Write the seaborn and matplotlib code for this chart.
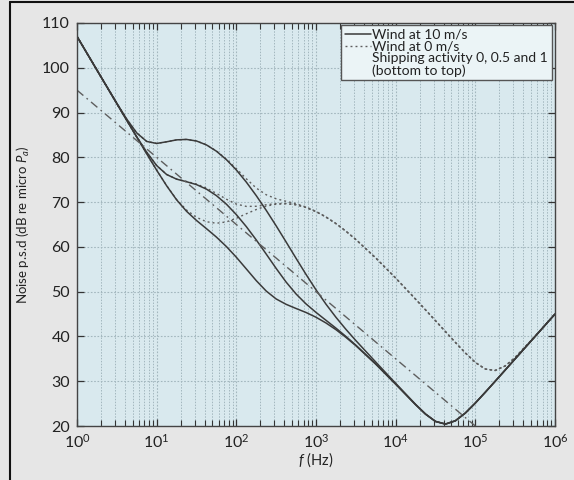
import matplotlib
matplotlib.use("Agg")
import matplotlib.pyplot as plt
from matplotlib.lines import Line2D
from matplotlib.ticker import FixedLocator, LogLocator, NullFormatter
import seaborn as sns
import pandas as pd

# ---------------- data ----------------
freq_hz = [1, 1.778, 3.162, 4.217, 5.623, 7.499, 10, 13.34, 17.78, 23.71, 31.62,
           42.17, 56.23, 74.99, 100, 133.4, 177.8, 237.1, 316.2, 421.7, 562.3,
           749.9, 1000, 1334, 1778, 2371, 3162, 5623, 10000, 17783, 23714, 31623,
           42170, 56234, 74989, 100000, 133352, 177828, 237137, 316228, 562341,
           1000000]

# solid curves (legend: "Wind at 10 m/s"), shipping 0, 0.5, 1
solid_s0 = [107.0, 99.5, 92.0, 88.25, 84.51, 80.79, 77.13, 73.65, 70.52, 67.95, 65.9,
            64.07, 62.19, 60.08, 57.69, 55.08, 52.47, 50.14, 48.37, 47.17, 46.24,
            45.35, 44.29, 43.01, 41.52, 39.81, 37.94, 33.81, 29.34, 24.76, 22.65, 21.02,
            20.43, 21.17, 22.9, 25.13, 27.54, 30.01, 32.5, 35.0, 40.0, 45.0]
solid_s05 = [107.0, 99.5, 92.0, 88.28, 84.6, 81.13, 78.16, 76.16, 75.13, 74.55, 73.91,
             72.90, 71.45, 69.54, 67.21, 64.53, 61.56, 58.40, 55.19, 52.14, 49.48,
             47.26, 45.37, 43.61, 41.86, 40.01, 38.06, 33.86, 29.36, 24.77, 22.65, 21.02,
             20.43, 21.17, 22.9, 25.13, 27.54, 30.01, 32.5, 35.0, 40.0, 45.0]
solid_s1 = [107.0, 99.5, 92.07, 88.51, 85.45, 83.55, 83.1, 83.47, 83.9, 84.0, 83.65,
            82.77, 81.37, 79.49, 77.18, 74.47, 71.45, 68.17, 64.70, 61.09, 57.44,
            53.85, 50.41, 47.21, 44.29, 41.60, 39.08, 34.28, 29.53, 24.84, 22.67, 21.02,
            20.43, 21.17, 22.9, 25.13, 27.54, 30.01, 32.5, 35.0, 40.0, 45.0]

# dotted curves (legend: "Wind at 0 m/s"), shipping 0, 0.5, 1
dotted_s0 = [107.0, 99.5, 92.0, 88.25, 84.51, 80.8, 77.14, 73.68, 70.6, 68.23, 66.6,
             65.62, 65.28, 65.58, 66.39, 67.40, 68.34, 69.11, 69.53, 69.64, 69.39,
             68.79, 67.87, 66.66, 65.2, 63.51, 61.65, 57.53, 53.04, 48.33, 45.93, 43.51,
             41.08, 38.66, 36.31, 34.2, 32.72, 32.40, 33.41, 35.31, 40.03, 45.0]
dotted_s05 = [107.0, 99.5, 92.0, 88.28, 84.6, 81.13, 78.18, 76.18, 75.16, 74.61, 74.03,
              73.14, 71.95, 70.65, 69.56, 69.04, 69.07, 69.41, 69.66, 69.69, 69.42,
              68.80, 67.89, 66.67, 65.2, 63.51, 61.65, 57.53, 53.04, 48.33, 45.93, 43.51,
              41.08, 38.66, 36.31, 34.2, 32.72, 32.40, 33.41, 35.31, 40.03, 45.0]
dotted_s1 = [107.0, 99.5, 92.07, 88.51, 85.45, 83.55, 83.1, 83.47, 83.9, 84.0, 83.66,
             82.79, 81.42, 79.62, 77.48, 75.21, 73.14, 71.64, 70.74, 70.18, 69.64,
             68.91, 67.93, 66.69, 65.22, 63.52, 61.66, 57.53, 53.04, 48.33, 45.93, 43.51,
             41.08, 38.66, 36.31, 34.2, 32.72, 32.40, 33.41, 35.31, 40.03, 45.0]

# dash-dot approximation line
approx_f = [1, 100000]
approx_db = [95, 20]

legend_labels = ["Wind at 10 m/s", "Wind at 0 m/s",
                 "Shipping activity 0, 0.5 and 1\n(bottom to top)"]
x_ticks = [1, 10, 100, 1000, 10000, 100000, 1000000]
y_ticks = [20, 30, 40, 50, 60, 70, 80, 90, 100, 110]

# ---------------- style ----------------
sns.set_style("ticks")
plt.rcParams["font.family"] = ["Lato", "DejaVu Sans"]
plt.rcParams["mathtext.fontset"] = "custom"
plt.rcParams["mathtext.rm"] = "Lato"
plt.rcParams["mathtext.it"] = "Lato:italic"
plt.rcParams["mathtext.bf"] = "Lato:bold"

FIG_BG = "#e6e6e6"
AX_BG = "#d9e9ee"
LINE = "#3a3a3a"
DOT = "#5e5e5e"
GRID = "#a3b7be"

fig = plt.figure(figsize=(5.74, 4.8), dpi=100, facecolor=FIG_BG)
ax = fig.add_axes([77 / 574, 1 - 426 / 480, 478 / 574, 403 / 480])
ax.set_facecolor(AX_BG)

solid = [solid_s0, solid_s05, solid_s1]
dotted = [dotted_s0, dotted_s05, dotted_s1]
for ys in dotted:
    df = pd.DataFrame({"f": freq_hz, "N": ys})
    sns.lineplot(data=df, x="f", y="N", ax=ax, color=DOT, lw=1.0,
                 linestyle=(0, (1.4, 2.2)), estimator=None, sort=False)
for ys in solid:
    df = pd.DataFrame({"f": freq_hz, "N": ys})
    sns.lineplot(data=df, x="f", y="N", ax=ax, color=LINE, lw=1.1,
                 estimator=None, sort=False)
dfa = pd.DataFrame({"f": approx_f, "N": approx_db})
sns.lineplot(data=dfa, x="f", y="N", ax=ax, color=DOT, lw=1.0,
             linestyle=(0, (6, 3, 1.2, 3)), estimator=None, sort=False)

ax.set_xscale("log")
ax.set_xlim(1, 1e6)
ax.set_ylim(20, 110)
ax.xaxis.set_major_locator(FixedLocator(x_ticks))
ax.set_xticklabels([f"$10^{{{i}}}$" for i in range(len(x_ticks))])
ax.xaxis.set_minor_locator(LogLocator(base=10, subs=range(2, 10), numticks=100))
ax.xaxis.set_minor_formatter(NullFormatter())
ax.yaxis.set_major_locator(FixedLocator(y_ticks))

ax.grid(which="major", axis="both", color=GRID, ls=(0, (1.5, 1.5)), lw=0.8)
ax.grid(which="minor", axis="x", color=GRID, ls=(0, (1.5, 1.5)), lw=0.7)
ax.set_axisbelow(True)

ax.tick_params(which="both", direction="in", top=True, right=True,
               color="#333333", labelsize=11.5, labelcolor="#222222")
ax.tick_params(which="major", length=5, width=0.9, pad=5)
ax.tick_params(which="minor", length=4, width=0.8)
for s in ax.spines.values():
    s.set_color("#444444")
    s.set_linewidth(1.0)

ax.set_xlabel("$f$ (Hz)", fontsize=10.5, color="#222222", labelpad=0)
ax.set_ylabel("Noise p.s.d (dB re micro $P_a$)", fontsize=9.5, color="#222222",
              labelpad=7)

handles = [Line2D([], [], color=LINE, lw=1.1),
           Line2D([], [], color=DOT, lw=1.0, linestyle=(0, (1.4, 2.2))),
           Line2D([], [], color="none")]
leg = ax.legend(handles, legend_labels, loc="upper right",
                bbox_to_anchor=(0.993, 0.995), borderaxespad=0,
                fancybox=False, framealpha=1, facecolor="#ebf4f6",
                edgecolor="#555555", fontsize=10, handlelength=1.9,
                handletextpad=0.1, labelspacing=0.0, borderpad=0.25)
leg.get_frame().set_linewidth(1.0)
for t in leg.get_texts():
    t.set_color("#222222")
    t.set_linespacing(0.95)

# figure border (left and top)
fig.add_artist(Line2D([10 / 574, 10 / 574], [0, 1 - 2 / 480],
                      transform=fig.transFigure, color="#111111", lw=1.5))
fig.add_artist(Line2D([10 / 574, 1], [1 - 2 / 480, 1 - 2 / 480],
                      transform=fig.transFigure, color="#111111", lw=1.5))

fig.savefig("out.png", dpi=100, facecolor=FIG_BG)
